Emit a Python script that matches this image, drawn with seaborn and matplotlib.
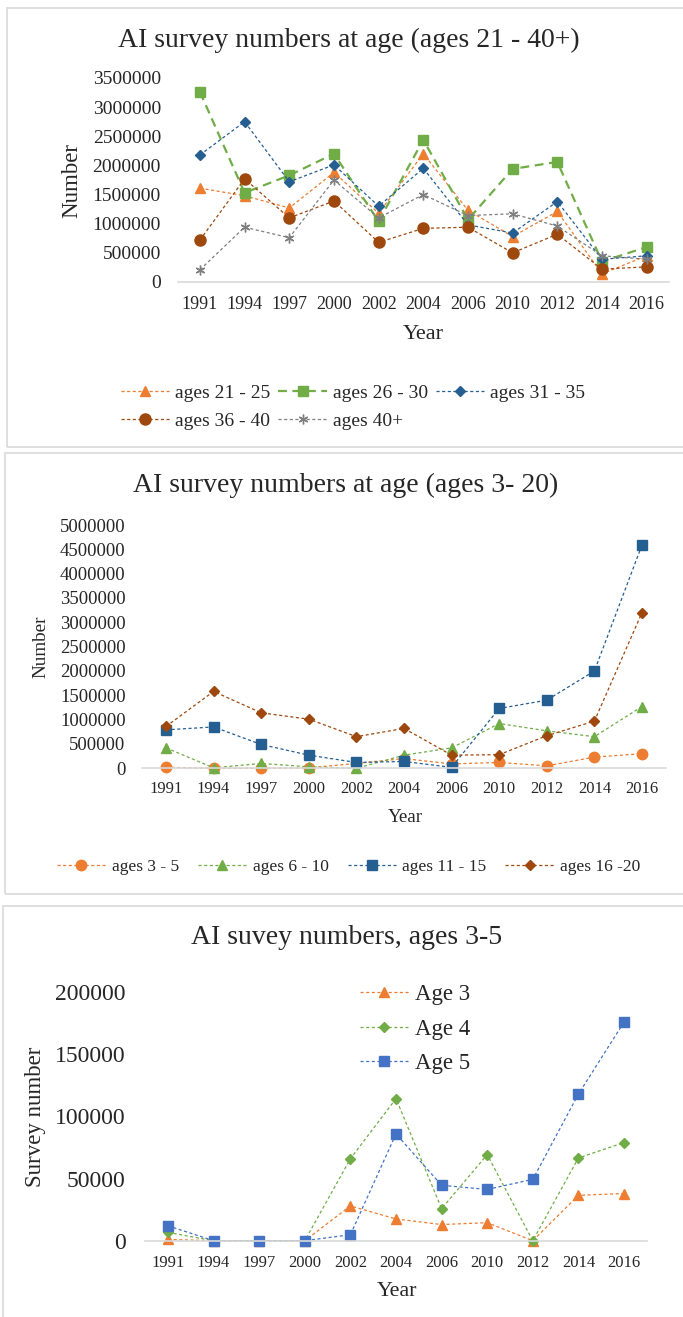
import numpy as np
import pandas as pd
import matplotlib
matplotlib.use('Agg')
import matplotlib.pyplot as plt
from matplotlib.patches import Rectangle
import seaborn as sns

# data
years = ['1991', '1994', '1997', '2000', '2002', '2004', '2006', '2010', '2012', '2014', '2016']

# chart 1: ages 21 - 40+
ages_21_25 = [1610000, 1480000, 1270000, 1880000, 1180000, 2200000, 1230000, 780000, 1210000, 140000, 450000]
ages_26_30 = [3260000, 1530000, 1830000, 2200000, 1040000, 2440000, 1070000, 1940000, 2060000, 350000, 600000]
ages_31_35 = [2180000, 2750000, 1720000, 2010000, 1300000, 1950000, 980000, 840000, 1380000, 390000, 450000]
ages_36_40 = [720000, 1770000, 1100000, 1390000, 680000, 920000, 940000, 500000, 820000, 220000, 260000]
ages_40_plus = [210000, 940000, 760000, 1750000, 1100000, 1500000, 1140000, 1170000, 960000, 450000, 390000]

# chart 2: ages 3 - 20
ages_3_5 = [20000, 0, 0, 10000, 100000, 200000, 90000, 120000, 50000, 230000, 300000]
ages_6_10 = [420000, 10000, 100000, 30000, 0, 270000, 420000, 920000, 770000, 650000, 1270000]
ages_11_15 = [790000, 850000, 490000, 270000, 120000, 140000, 20000, 1230000, 1400000, 2000000, 4590000]
ages_16_20 = [860000, 1580000, 1140000, 1010000, 650000, 820000, 270000, 280000, 670000, 970000, 3200000]

# chart 3: ages 3 - 5
age_3 = [1000, 0, 0, 0, 28000, 17500, 13000, 14500, 0, 36500, 38000]
age_4 = [6700, 0, 0, 0, 66000, 114400, 25800, 69300, 0, 66600, 79000]
age_5 = [12000, 0, 0, 0, 4800, 86000, 44600, 41300, 49400, 118000, 176000]

ORANGE = '#ED7D31'
GREEN = '#70AD47'
DBLUE = '#255E91'
BROWN = '#9E480E'
GRAY = '#7F7F7F'
BLUE = '#4472C4'

sns.set_style('white')
plt.rcParams['font.family'] = ['Liberation Serif', 'DejaVu Serif']

W, H = 683, 1317
fig = plt.figure(figsize=(W / 100, H / 100), dpi=100)


def fx(x):
    return x / W


def fy(y):
    return 1 - y / H


def make_ax(left, right, top, bottom):
    return fig.add_axes([fx(left), fy(bottom), fx(right - left), (bottom - top) / H])


# panel borders
for (x0, y0, y1) in [(7, 8, 447), (5, 453, 894), (3, 906, 1330)]:
    fig.add_artist(Rectangle((fx(x0), fy(y1)), fx(700 - x0), (y1 - y0) / H,
                             transform=fig.transFigure, fill=False,
                             edgecolor='#d9d9d9', linewidth=1.2))


def draw(ax, series, ymax, ystep):
    for s in series:
        df = pd.DataFrame({'Year': years, 'Number': s['y']})
        sns.lineplot(data=df, x='Year', y='Number', ax=ax, color=s['c'],
                     marker=s['m'], markersize=s['ms'], linewidth=s['lw'],
                     linestyle=s['ls'], markeredgecolor=s['c'],
                     markerfacecolor=s['c'], markeredgewidth=1.0,
                     label=s['label'], clip_on=False, legend=False)
    ax.set_xlim(-0.5, len(years) - 0.5)
    ax.set_ylim(0, ymax)
    ax.set_yticks(np.arange(0, ymax + 1, ystep))
    ax.yaxis.set_major_formatter(matplotlib.ticker.FuncFormatter(lambda v, p: f'{int(v)}'))
    for sp in ['top', 'right', 'left']:
        ax.spines[sp].set_visible(False)
    ax.spines['bottom'].set_color('#d9d9d9')
    ax.spines['bottom'].set_linewidth(1.2)
    ax.tick_params(length=0)
    ax.set_xlabel('')
    ax.set_ylabel('')


dot = (0, (2.5, 2))

# ---- chart 1
ax1 = make_ax(177.6, 669, 78, 282)
s1 = [
    dict(y=ages_21_25, c=ORANGE, m='^', ms=7.5, lw=0.9, ls=dot, label='ages 21 - 25'),
    dict(y=ages_26_30, c=GREEN, m='s', ms=7, lw=1.6, ls=(0, (4, 2.5)), label='ages 26 - 30'),
    dict(y=ages_31_35, c=DBLUE, m='D', ms=5.5, lw=0.9, ls=dot, label='ages 31 - 35'),
    dict(y=ages_36_40, c=BROWN, m='o', ms=8, lw=0.9, ls=dot, label='ages 36 - 40'),
    dict(y=ages_40_plus, c=GRAY, m=(6, 2, 0), ms=7, lw=0.9, ls=dot, label='ages 40+'),
]
draw(ax1, s1, 3500000, 500000)
ax1.tick_params(axis='y', labelsize=14, pad=12)
ax1.tick_params(axis='x', labelsize=13, pad=10)
fig.text(fx(349), fy(40), 'AI survey numbers at age (ages 21 - 40+)', fontsize=20, ha='center', va='center')
fig.text(fx(423), fy(335), 'Year', fontsize=16, ha='center', va='center')
fig.text(fx(72), fy(180), 'Number', fontsize=16.5, ha='center', va='center', rotation=90)
h, l = ax1.get_legend_handles_labels()
order = [0, 3, 1, 4, 2]
fig.legend([h[i] for i in order], [l[i] for i in order], ncol=3, loc='center left',
           bbox_to_anchor=(fx(121), fy(407)), bbox_transform=fig.transFigure,
           frameon=False, fontsize=14, handlelength=2.5, handletextpad=0.3,
           columnspacing=0.4, labelspacing=0.55, borderpad=0, borderaxespad=0)

# ---- chart 2
ax2 = make_ax(142.2, 665.8, 525, 768.3)
s2 = [
    dict(y=ages_3_5, c=ORANGE, m='o', ms=7.5, lw=0.9, ls=dot, label='ages 3 - 5'),
    dict(y=ages_6_10, c=GREEN, m='^', ms=7.5, lw=0.9, ls=dot, label='ages 6 - 10'),
    dict(y=ages_11_15, c=DBLUE, m='s', ms=7, lw=0.9, ls=dot, label='ages 11 - 15'),
    dict(y=ages_16_20, c=BROWN, m='D', ms=5.5, lw=0.9, ls=dot, label='ages 16 -20'),
]
draw(ax2, s2, 5000000, 500000)
ax2.tick_params(axis='y', labelsize=13.5, pad=12)
ax2.tick_params(axis='x', labelsize=12, pad=9)
fig.text(fx(346), fy(485), 'AI survey numbers at age (ages 3- 20)', fontsize=20, ha='center', va='center')
fig.text(fx(405), fy(817), 'Year', fontsize=13.7, ha='center', va='center')
fig.text(fx(41), fy(647), 'Number', fontsize=13.8, ha='center', va='center', rotation=90)
h, l = ax2.get_legend_handles_labels()
fig.legend(h, l, ncol=4, loc='center left',
           bbox_to_anchor=(fx(57), fy(867)), bbox_transform=fig.transFigure,
           frameon=False, fontsize=12.5, handlelength=2.8, handletextpad=0.35,
           columnspacing=1.1, borderpad=0, borderaxespad=0)

# ---- chart 3
ax3 = make_ax(145.2, 646.8, 992.3, 1240.7)
s3 = [
    dict(y=age_3, c=ORANGE, m='^', ms=7.5, lw=0.9, ls=dot, label='Age 3'),
    dict(y=age_4, c=GREEN, m='D', ms=5.5, lw=0.9, ls=dot, label='Age 4'),
    dict(y=age_5, c=BLUE, m='s', ms=7.5, lw=0.9, ls=dot, label='Age 5'),
]
draw(ax3, s3, 200000, 50000)
ax3.tick_params(axis='y', labelsize=17, pad=14)
ax3.tick_params(axis='x', labelsize=12, pad=10)
fig.text(fx(346.5), fy(938), 'AI suvey numbers, ages 3-5', fontsize=20, ha='center', va='center')
fig.text(fx(397), fy(1292), 'Year', fontsize=15.8, ha='center', va='center')
fig.text(fx(35), fy(1117), 'Survey number', fontsize=16.5, ha='center', va='center', rotation=90)
h, l = ax3.get_legend_handles_labels()
fig.legend(h, l, ncol=1, loc='center left',
           bbox_to_anchor=(fx(360), fy(1029)), bbox_transform=fig.transFigure,
           frameon=False, fontsize=16.5, handlelength=2.1, handletextpad=0.3,
           labelspacing=0.6, borderpad=0, borderaxespad=0)

fig.savefig('out.png', dpi=100)
